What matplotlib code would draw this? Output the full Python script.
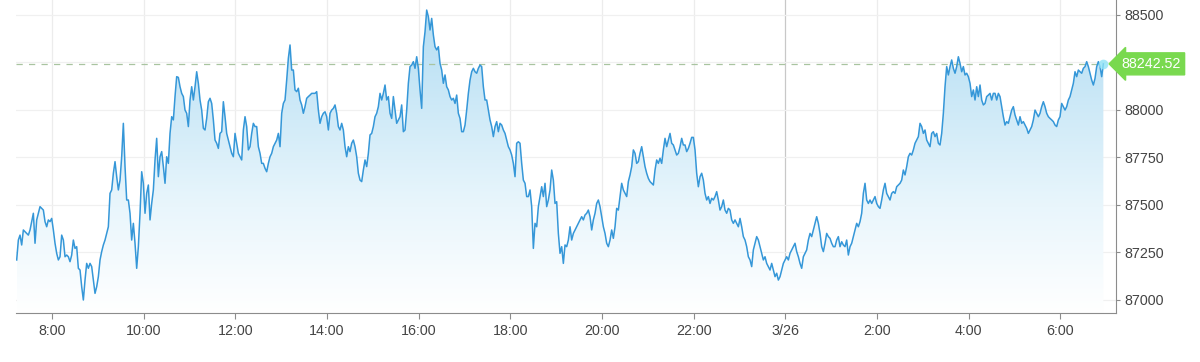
import numpy as np
import matplotlib
matplotlib.use("Agg")
import matplotlib.pyplot as plt
from matplotlib.colors import LinearSegmentedColormap

# ---------------- data ----------------
start_hour = 7.229      # first sample, hours after 3/25 00:00
step_minutes = 2.182    # sampling step
prices = [
    # 7:14 - 10:30
    87209, 87314, 87340, 87288, 87367, 87358, 87349, 87340, 87367, 87411,
    87455, 87297, 87420, 87455, 87490, 87481, 87472, 87411, 87384, 87420,
    87411, 87428, 87367, 87297, 87244, 87209, 87226, 87340, 87314, 87226,
    87235, 87226, 87200, 87235, 87314, 87270, 87279, 87165, 87156, 87068,
    86998, 87103, 87191, 87165, 87191, 87174, 87103, 87033, 87068, 87121,
    87209, 87253, 87288, 87314, 87349, 87384, 87560, 87578, 87666, 87727,
    87648, 87578, 87630, 87753, 87929, 87701, 87525, 87525, 87455, 87314,
    87402, 87297, 87165, 87279, 87455, 87674, 87613, 87455, 87560, 87604,
    87420, 87507, 87578, 87736, 87850, 87648, 87753, 87780, 87701,
    # 10:30 - 13:50
    87613, 87753, 87718, 87876, 87964, 87947, 88070, 88175, 88171, 88122,
    88087, 88070, 87999, 87982, 87912, 88052, 88122, 88052, 88122, 88201,
    88140, 88052, 87999, 87903, 87894, 87955, 88043, 88061, 88034, 87947,
    87841, 87824, 87797, 87876, 87885, 88043, 87964, 87876, 87841, 87806,
    87771, 87753, 87876, 87824, 87771, 87753, 87736, 87894, 87964, 87912,
    87789, 87806, 87876, 87929, 87912, 87912, 87806, 87771, 87718, 87718,
    87692, 87674, 87718, 87753, 87771, 87806, 87824, 87841, 87876, 87806,
    87982, 88034, 88052, 88157, 88272, 88342, 88210, 88210, 88105, 88096,
    88114, 88052, 88026, 87982, 88017, 88061, 88070, 88078, 88087, 88087,
    88087, 88096, 87999,
    # 13:50 - 17:15
    87929, 87964, 87982, 87990, 87964, 87894, 87982, 87999, 88008, 88026,
    87982, 87912, 87894, 87929, 87894, 87806, 87753, 87806, 87780, 87824,
    87841, 87806, 87753, 87666, 87630, 87622, 87683, 87736, 87701, 87771,
    87868, 87876, 87912, 87964, 87982, 88017, 88087, 88052, 88087, 88131,
    88052, 88070, 87982, 87955, 88070, 87999, 87929, 87947, 87964, 88026,
    87885, 87894, 87999, 88140, 88228, 88236, 88254, 88219, 88280, 88219,
    88105, 88008, 88333, 88412, 88526, 88491, 88421, 88482, 88395, 88333,
    88316, 88333, 88245, 88210, 88140, 88184, 88122, 88105, 88070, 88052,
    88061, 88034, 88078, 87982, 87955, 87885, 87885, 87920, 87999, 88087,
    88157, 88201, 88219,
    # 17:15 - 20:40
    88201, 88193, 88219, 88236, 88228, 88122, 88052, 88052, 87999, 87947,
    87912, 87859, 87912, 87938, 87885, 87929, 87920, 87894, 87876, 87841,
    87806, 87789, 87762, 87718, 87648, 87824, 87832, 87824, 87718, 87630,
    87613, 87543, 87543, 87578, 87490, 87270, 87402, 87384, 87490, 87543,
    87595, 87543, 87613, 87490, 87525, 87578, 87683, 87630, 87507, 87516,
    87349, 87244, 87279, 87191, 87288, 87279, 87314, 87384, 87314, 87349,
    87367, 87384, 87402, 87420, 87437, 87420, 87446, 87455, 87472, 87437,
    87367, 87420, 87455, 87507, 87525, 87490, 87437, 87384, 87349, 87297,
    87279, 87314, 87367, 87323, 87384, 87481, 87472, 87543, 87613, 87578,
    87560, 87543, 87622,
    # 20:40 - 0:05
    87657, 87701, 87789, 87771, 87718, 87727, 87771, 87806, 87753, 87701,
    87666, 87639, 87622, 87613, 87604, 87683, 87736, 87718, 87745, 87718,
    87789, 87850, 87806, 87841, 87876, 87824, 87815, 87789, 87762, 87771,
    87806, 87850, 87815, 87815, 87780, 87797, 87824, 87855, 87855, 87789,
    87666, 87595, 87648, 87666, 87630, 87560, 87525, 87543, 87507, 87534,
    87525, 87543, 87569, 87525, 87472, 87490, 87525, 87472, 87455, 87481,
    87472, 87420, 87402, 87420, 87402, 87384, 87428, 87384, 87332, 87314,
    87279, 87226, 87209, 87174, 87262, 87297, 87332, 87314, 87279, 87244,
    87209, 87226, 87191, 87174, 87156, 87191, 87156, 87121, 87139, 87103,
    87121, 87156, 87191,
    # 0:05 - 3:30
    87209, 87226, 87209, 87244, 87262, 87279, 87297, 87253, 87226, 87191,
    87165, 87226, 87244, 87262, 87314, 87349, 87332, 87367, 87402, 87437,
    87402, 87349, 87279, 87253, 87297, 87349, 87332, 87323, 87297, 87279,
    87279, 87314, 87332, 87279, 87305, 87288, 87279, 87314, 87235, 87279,
    87297, 87332, 87367, 87402, 87384, 87411, 87455, 87560, 87613, 87525,
    87507, 87525, 87507, 87525, 87543, 87507, 87490, 87481, 87525, 87578,
    87613, 87560, 87543, 87525, 87560, 87569, 87560, 87595, 87604, 87613,
    87630, 87683, 87657, 87701, 87753, 87771, 87762, 87789, 87824, 87841,
    87859, 87929, 87912, 87876, 87894, 87841, 87824, 87806, 87876, 87885,
    87859, 87876, 87824,
    # 3:30 - 6:56
    87815, 87876, 87982, 88122, 88228, 88184, 88228, 88263, 88219, 88193,
    88228, 88280, 88245, 88201, 88228, 88184, 88193, 88175, 88140, 88070,
    88105, 88052, 88122, 88070, 88131, 88052, 88026, 88034, 88070, 88078,
    88087, 88052, 88087, 88087, 88052, 88087, 88070, 88017, 87964, 87920,
    87938, 87929, 87964, 87999, 88017, 87973, 87947, 87920, 87964, 87929,
    87938, 87920, 87903, 87876, 87894, 87912, 87947, 87999, 87982, 87964,
    87982, 88017, 88043, 88017, 87982, 87964, 87955, 87947, 87938, 87920,
    87912, 87947, 87964, 88034, 88017, 87999, 88017, 88052, 88070, 88105,
    88140, 88201, 88175, 88210, 88201, 88193, 88219, 88228, 88254, 88228,
    88193, 88157, 88131, 88166, 88228, 88254, 88228, 88175, 88242.52,
]
last_price = 88242.52
x_ticks = [8, 10, 12, 14, 16, 18, 20, 22, 24, 26, 28, 30]
x_tick_labels = ["8:00", "10:00", "12:00", "14:00", "16:00", "18:00",
                 "20:00", "22:00", "3/26", "2:00", "4:00", "6:00"]
y_ticks = [87000, 87250, 87500, 87750, 88000, 88250, 88500]
y_tick_labels = ["87000", "87250", "87500", "87750", "88000", "", "88500"]

# ---------------- figure ----------------
plt.rcParams['font.family'] = ['Liberation Sans', 'DejaVu Sans']
W, H = 1200, 362
fig = plt.figure(figsize=(W / 100, H / 100), dpi=100)
ax = fig.add_axes([16 / W, (H - 313) / H, 1100 / W, 313 / H])

prices = np.asarray(prices, dtype=float)
hours = start_hour + np.arange(len(prices)) * step_minutes / 60.0

xmin, xmax = 7.214, 31.216
ymin, ymax = 86929.5, 88579
ax.set_xlim(xmin, xmax)
ax.set_ylim(ymin, ymax)

# gradient area fill
poly = ax.fill_between(hours, prices, ymin, color='none', lw=0)
cmap = LinearSegmentedColormap.from_list(
    'g', [(0.0, '#ffffff'), (0.35, '#e9f6fc'), (1.0, '#b3ddf3')])
grad = np.linspace(0, 1, 256).reshape(-1, 1)
top = prices.max()
im = ax.imshow(grad, extent=[hours[0], hours[-1], ymin, top], origin='lower',
               aspect='auto', cmap=cmap, zorder=1, interpolation='bicubic')
path = poly.get_paths()[0]
im.set_clip_path(path, transform=ax.transData)

ax.plot(hours, prices, color='#3597d8', lw=1.1, zorder=3)

# grid
for t in x_ticks:
    ax.axvline(t, color='#c8c8c8' if t == 24 else '#ececec', lw=0.9, zorder=0.5)
for v in y_ticks:
    ax.axhline(v, color='#f0f0f0', lw=0.9, zorder=0.5)

# current price line
ax.axhline(last_price, xmax=(hours[-1] - xmin) / (xmax - xmin),
           color='#a9c4a0', lw=0.9, ls=(0, (5, 5)), zorder=2)
ax.plot(hours[-1], last_price, 'o', ms=7, color='#8fe3f7', alpha=0.8,
        zorder=4, markeredgewidth=0)
ax.text(31.33, last_price, "88242.52", color='white', fontsize=10.3,
        va='center', ha='left', zorder=6, clip_on=False,
        bbox=dict(boxstyle='larrow,pad=0.28', fc='#79d94f', ec='#79d94f'))

# axes styling
for s in ['left', 'top']:
    ax.spines[s].set_visible(False)
ax.spines['right'].set_color('#8c8c8c')
ax.spines['bottom'].set_color('#8c8c8c')
ax.yaxis.tick_right()
ax.set_yticks(y_ticks)
ax.set_yticklabels(y_tick_labels)
ax.set_xticks(x_ticks)
ax.set_xticklabels(x_tick_labels)
ax.tick_params(axis='y', colors='#8c8c8c', labelcolor='#444444',
               labelsize=10.3, length=3, pad=3)
ax.tick_params(axis='x', colors='#8c8c8c', labelcolor='#444444',
               labelsize=10.3, length=4, pad=4)

fig.savefig('out.png', dpi=100, facecolor='white')
